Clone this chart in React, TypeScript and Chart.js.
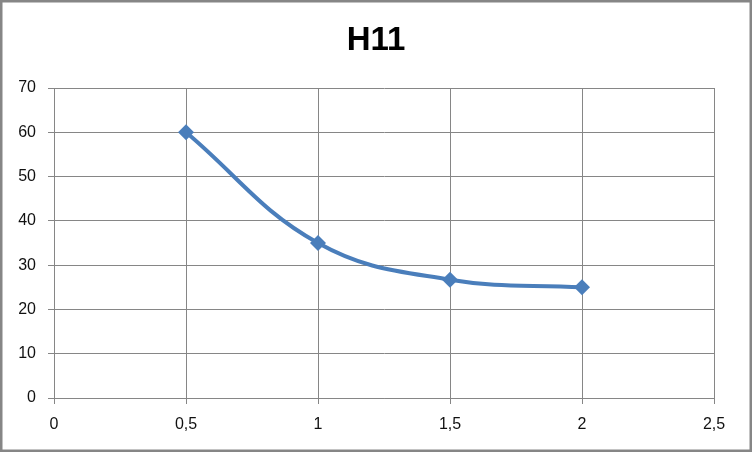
import React, { useEffect, useRef } from "react";
import { Chart, registerables } from "chart.js";

Chart.register(...registerables);

const titleText = "H11";
const xValues = [0.5, 1, 1.5, 2];
const yValues = [60, 35, 26.7, 25];
const xTickMin = 0;
const xTickMax = 2.5;
const xTickStep = 0.5;
const yTickMin = 0;
const yTickMax = 70;
const yTickStep = 10;

const GRID = "#868686";
const BLUE = "#4A7EBB";
const FONT = "'Liberation Sans', Arial, sans-serif";

const borderPlugin = {
  id: "outerBorder",
  afterLayout(chart: any) {
    const tb = chart.titleBlock;
    if (tb) {
      tb.left = 0;
      tb.right = chart.width;
      tb.width = chart.width;
    }
  },
  afterDraw(chart: any) {
    const ctx = chart.ctx;
    ctx.save();
    ctx.strokeStyle = GRID;
    ctx.lineWidth = 2.5;
    ctx.strokeRect(1.25, 1.25, chart.width - 2.5, chart.height - 2.5);
    ctx.restore();
  },
};

export default function App() {
  const ref = useRef<HTMLCanvasElement | null>(null);

  useEffect(() => {
    if (!ref.current) return;
    const data = xValues.map((x, i) => ({ x, y: yValues[i] }));
    const chart = new Chart(ref.current, {
      type: "scatter",
      data: {
        datasets: [
          {
            data,
            showLine: true,
            borderColor: BLUE,
            backgroundColor: BLUE,
            borderWidth: 4,
            tension: 0.4,
            pointStyle: "rectRot",
            pointRadius: 8,
            pointHoverRadius: 8,
            pointBorderWidth: 0,
          },
        ],
      },
      options: {
        animation: false,
        responsive: false,
        maintainAspectRatio: false,
        layout: { padding: { left: 0, right: 38, top: 0, bottom: 0 } },
        plugins: {
          legend: { display: false },
          tooltip: { enabled: false },
          title: {
            display: true,
            text: titleText,
            color: "#000",
            font: { family: FONT, size: 33, weight: "bold" },
            padding: { top: 21, bottom: 27.4 },
          },
        },
        scales: {
          x: {
            type: "linear",
            min: xTickMin,
            max: xTickMax,
            afterFit(scale: any) {
              scale.height = 54;
            },
            ticks: {
              stepSize: xTickStep,
              color: "#111",
              padding: 11,
              font: { family: FONT, size: 16 },
              callback: (v: any) => String(v).replace(".", ","),
            },
            grid: { color: GRID, lineWidth: 1, tickLength: 6, drawTicks: true },
            border: { color: GRID, width: 1 },
          },
          y: {
            type: "linear",
            min: yTickMin,
            max: yTickMax,
            afterFit(scale: any) {
              scale.width = 54;
            },
            ticks: {
              stepSize: yTickStep,
              color: "#111",
              padding: 12,
              font: { family: FONT, size: 16 },
            },
            grid: { color: GRID, lineWidth: 1, tickLength: 6, drawTicks: true },
            border: { color: GRID, width: 1 },
          },
        },
      },
      plugins: [borderPlugin],
    });
    return () => chart.destroy();
  }, []);

  return (
    <div style={{ position: "fixed", left: 0, top: 0, width: 752, height: 452, background: "#fff" }}>
      <canvas ref={ref} width={752} height={452} style={{ display: "block", width: 752, height: 452 }} />
    </div>
  );
}
